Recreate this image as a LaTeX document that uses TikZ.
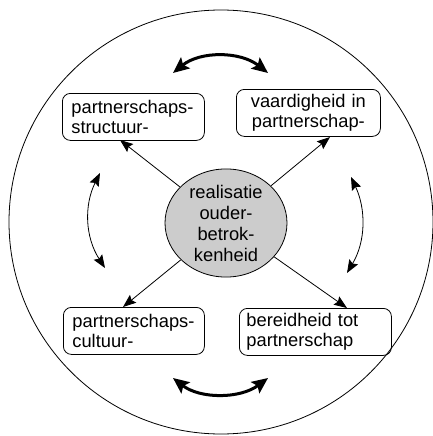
\documentclass[tikz,border=0pt]{standalone}
\usepackage{fontspec}
\setmainfont{Liberation Sans}
\usetikzlibrary{arrows.meta,shapes.geometric}
\begin{document}
\begin{tikzpicture}[x=1pt,y=-1pt,
  box/.style={draw, rounded corners=8pt, line width=0.8pt, minimum height=47pt,
    inner xsep=9pt, inner ysep=0pt, anchor=north west,
    font=\fontsize{18.3}{20}\selectfont},
  thinarrow/.style={line width=0.8pt, -{Stealth[length=13pt,width=10pt,inset=2pt]}},
  thinbi/.style={line width=0.8pt, {Stealth[length=13pt,width=10pt,inset=2pt]}-{Stealth[length=13pt,width=10pt,inset=2pt]}},
  thickbi/.style={line width=3pt, {Stealth[length=16pt,width=14pt,inset=3pt]}-{Stealth[length=16pt,width=14pt,inset=3pt]}}
]
\useasboundingbox (0,0) rectangle (433,436);
\node[circle, draw, line width=0.8pt, minimum size=424pt, inner sep=0pt] (outer) at (221,222) {};
\node[ellipse, draw, line width=0.8pt, fill=gray!40, minimum width=122pt, minimum height=107pt,
  inner sep=0pt, align=center, font=\fontsize{18.3}{21}\selectfont] (c) at (226,223)
  {realisatie\\ouder-\\betrok-\\kenheid};
\node[box, text width=124pt, align=left] (tl) at (62,93) {partnerschaps-\\structuur-};
\node[box, text width=126pt, align=center] (tr) at (236,89) {vaardigheid in\\partnerschap-};
\node[box, text width=123pt, align=left] (bl) at (63,307) {partnerschaps-\\cultuur-};
\node[box, inner xsep=7pt, text width=138pt, align=left] (br) at (239,308) {bereidheid tot\\partnerschap};
\coordinate (atl) at (120,140);
\coordinate (atr) at (330,137);
\coordinate (abl) at (123,307);
\coordinate (abr) at (347,308);
\draw[thinarrow] (c) -- (atl);
\draw[thinarrow] (c) -- (atr);
\draw[thinarrow] (c) -- (abl);
\draw[thinarrow] (c) -- (abr);
\coordinate (t1) at (173,73);
\coordinate (t2) at (268,73);
\coordinate (b1) at (173,378);
\coordinate (b2) at (268,378);
\coordinate (l1) at (100,173);
\coordinate (l2) at (105,268);
\coordinate (r1) at (351,177);
\coordinate (r2) at (347,273);
\draw[thickbi] (t1) .. controls (200,51) and (240,51) .. (t2);
\draw[thickbi] (b1) .. controls (200,399) and (240,399) .. (b2);
\draw[thinbi] (l1) .. controls (84,205) and (85,237) .. (l2);
\draw[thinbi] (r1) .. controls (366,209) and (366,241) .. (r2);
\end{tikzpicture}
\end{document}
